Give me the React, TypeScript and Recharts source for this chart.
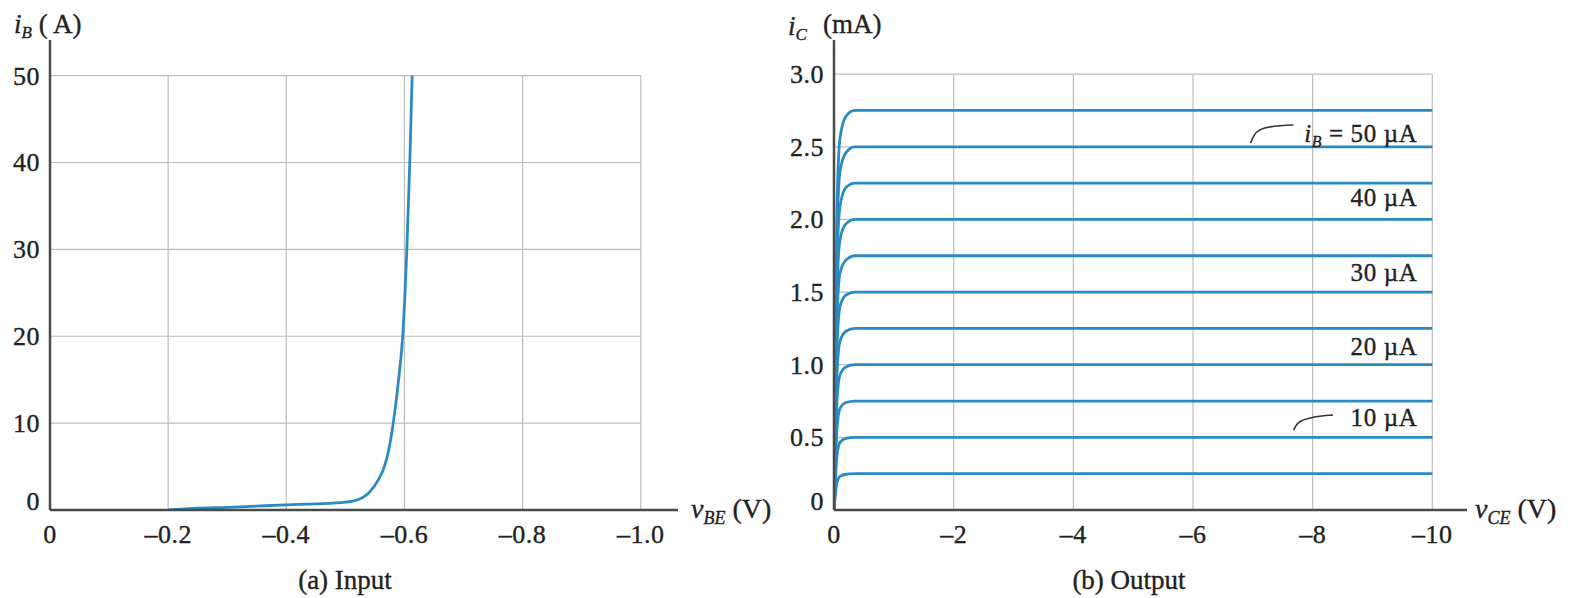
import { LineChart, Line, XAxis, YAxis, ReferenceLine, ReferenceDot } from 'recharts';

const FONT = '"Liberation Serif", "Times New Roman", serif';
const CURVE = '#2a8ac4';
const GRID = '#bdbdbd';
const AXIS = '#4a4a4a';
const TEXT = '#222';

// (a) input characteristic
const vbeValues = [-0.2, -0.25, -0.3, -0.35, -0.4, -0.45, -0.5, -0.52, -0.54, -0.556, -0.565, -0.573, -0.581, -0.59, -0.597, -0.604, -0.609, -0.613];
const ibValues = [0, 0.2, 0.3, 0.45, 0.6, 0.7, 0.9, 1.15, 2.0, 3.5, 4.8, 6.8, 10, 15, 20, 30, 40, 50];
const inputXTicks = [0, -0.2, -0.4, -0.6, -0.8, -1.0];
const inputYTicks = [0, 10, 20, 30, 40, 50];

// (b) output characteristics, one curve per base current step (5 µA)
const vceValues = [0, -0.05, -0.1, -0.2, -0.35, -10];
const icCurves = [
  [0, 0.19, 0.232, 0.246, 0.25, 0.25],
  [0, 0.375, 0.465, 0.493, 0.5, 0.5],
  [0, 0.56, 0.7, 0.74, 0.75, 0.75],
  [0, 0.75, 0.93, 0.985, 1.0, 1.0],
  [0, 0.94, 1.16, 1.23, 1.25, 1.25],
  [0, 1.12, 1.4, 1.48, 1.5, 1.5],
  [0, 1.31, 1.63, 1.72, 1.75, 1.75],
  [0, 1.5, 1.86, 1.97, 2.0, 2.0],
  [0, 1.69, 2.09, 2.22, 2.25, 2.25],
  [0, 1.88, 2.33, 2.46, 2.5, 2.5],
  [0, 2.06, 2.56, 2.71, 2.75, 2.75],
];
const outputXTicks = [0, -2, -4, -6, -8, -10];
const outputYTicks = [0, 0.5, 1.0, 1.5, 2.0, 2.5, 3.0];

// curve labels (right aligned at x, centred on y)
const labelTexts = ['50', '40 µA', '30 µA', '20 µA', '10 µA'];
const labelX = -9.75;
const labelY = [2.59, 2.15, 1.63, 1.12, 0.63];

// leader strokes for the 50 µA and 10 µA labels
const leader50X = [-6.96, -7.06, -7.26, -7.68];
const leader50Y = [2.525, 2.6, 2.635, 2.65];
const leader10X = [-7.68, -7.76, -7.96, -8.34];
const leader10Y = [0.55, 0.6, 0.633, 0.654];

const inputData = vbeValues.map((x, i) => ({ x, y: ibValues[i] }));
const outputData = icCurves.map((c) => vceValues.map((x, i) => ({ x, y: c[i] })));
const leader50 = leader50X.map((x, i) => ({ x, y: leader50Y[i] }));
const leader10 = leader10X.map((x, i) => ({ x, y: leader10Y[i] }));

const dash = (v: number, digits: number) => (v === 0 ? '0' : '\u2013' + Math.abs(v).toFixed(digits));

const textStyle = { fontFamily: FONT, fill: TEXT, stroke: TEXT, strokeWidth: 0.35 };

function XTick(props: any) {
  const { x, y, payload, digits } = props;
  return (
    <text x={x} y={y + 33} textAnchor="middle" fontSize={26} letterSpacing={0.5} style={textStyle}>
      {dash(payload.value, digits)}
    </text>
  );
}

function YTick(props: any) {
  const { x, y, payload, digits } = props;
  const v = payload.value;
  return (
    <text x={x - 10} y={y + 9 + (v === 0 ? -9 : 0)} textAnchor="end" fontSize={26} letterSpacing={0.5} style={textStyle}>
      {v === 0 ? '0' : v.toFixed(digits)}
    </text>
  );
}

function CurveLabel(props: any) {
  const { cx, cy, text, sub } = props;
  return (
    <text x={cx} y={cy + 8} textAnchor="end" fontSize={25} letterSpacing={0.6} style={textStyle}>
      {sub ? (
        <>
          <tspan fontStyle="italic">i</tspan>
          <tspan fontStyle="italic" fontSize={16} dy={5}>B</tspan>
          <tspan dy={-5}> = {text} µA</tspan>
        </>
      ) : (
        text
      )}
    </text>
  );
}

function InputChart() {
  return (
    <LineChart width={790} height={598} margin={{ top: 40, right: 112, bottom: 58, left: 0 }}>
      <XAxis
        type="number"
        dataKey="x"
        domain={[-1.063, 0]}
        reversed
        allowDataOverflow
        ticks={inputXTicks}
        tickSize={0}
        tickMargin={0}
        height={30}
        axisLine={{ stroke: AXIS, strokeWidth: 2.5 }}
        tickLine={false}
        tick={(p: any) => <XTick {...p} digits={1} />}
      />
      <YAxis
        type="number"
        domain={[0, 54.1]}
        allowDataOverflow
        ticks={inputYTicks}
        tickSize={0}
        tickMargin={0}
        width={50}
        axisLine={{ stroke: AXIS, strokeWidth: 2.5 }}
        tickLine={false}
        tick={(p: any) => <YTick {...p} digits={0} />}
      />
      {inputXTicks.slice(1).map((t) => (
        <ReferenceLine key={'v' + t} segment={[{ x: t, y: 0 }, { x: t, y: 50 }]} stroke={GRID} strokeWidth={1.2} />
      ))}
      {inputYTicks.slice(1).map((t) => (
        <ReferenceLine key={'h' + t} segment={[{ x: 0, y: t }, { x: -1, y: t }]} stroke={GRID} strokeWidth={1.2} />
      ))}
      <Line data={inputData} dataKey="y" type="monotone" stroke={CURVE} strokeWidth={2.8} dot={false} isAnimationActive={false} />
    </LineChart>
  );
}

function OutputChart() {
  return (
    <LineChart width={788} height={598} margin={{ top: 40, right: 104, bottom: 58, left: 0 }}>
      <XAxis
        type="number"
        dataKey="x"
        domain={[-10.58, 0]}
        reversed
        allowDataOverflow
        ticks={outputXTicks}
        tickSize={0}
        tickMargin={0}
        height={30}
        axisLine={{ stroke: AXIS, strokeWidth: 2.5 }}
        tickLine={false}
        tick={(p: any) => <XTick {...p} digits={0} />}
      />
      <YAxis
        type="number"
        domain={[0, 3.235]}
        allowDataOverflow
        ticks={outputYTicks}
        tickSize={0}
        tickMargin={0}
        width={51}
        axisLine={{ stroke: AXIS, strokeWidth: 2.5 }}
        tickLine={false}
        tick={(p: any) => <YTick {...p} digits={1} />}
      />
      {outputXTicks.slice(1).map((t) => (
        <ReferenceLine key={'v' + t} segment={[{ x: t, y: 0 }, { x: t, y: 3 }]} stroke={GRID} strokeWidth={1.2} />
      ))}
      {outputYTicks.slice(1).map((t) => (
        <ReferenceLine key={'h' + t} segment={[{ x: 0, y: t }, { x: -10, y: t }]} stroke={GRID} strokeWidth={1.2} />
      ))}
      {outputData.map((d, i) => (
        <Line key={i} data={d} dataKey="y" type="monotone" stroke={CURVE} strokeWidth={2.8} dot={false} isAnimationActive={false} />
      ))}
      <Line data={leader50} dataKey="y" type="monotone" stroke="#333" strokeWidth={1.6} dot={false} isAnimationActive={false} />
      <Line data={leader10} dataKey="y" type="monotone" stroke="#333" strokeWidth={1.6} dot={false} isAnimationActive={false} />
      {labelTexts.map((t, i) => (
        <ReferenceDot
          key={t}
          x={labelX}
          y={labelY[i]}
          r={0}
          shape={(p: any) => <CurveLabel {...p} text={t} sub={i === 0} />}
        />
      ))}
    </LineChart>
  );
}

export default function App() {
  return (
    <div style={{ position: 'absolute', left: 0, top: 0, width: 1571, height: 598, background: '#fff', overflow: 'hidden' }}>
      <div style={{ position: 'absolute', left: 0, top: 0 }}>
        <InputChart />
      </div>
      <div style={{ position: 'absolute', left: 783, top: 0 }}>
        <OutputChart />
      </div>
      <svg width={1571} height={598} style={{ position: 'absolute', left: 0, top: 0, pointerEvents: 'none' }}>
        <text x={14} y={33} fontSize={27} style={textStyle}>
          <tspan fontStyle="italic">i</tspan>
          <tspan fontStyle="italic" fontSize={17} dy={5}>B</tspan>
          <tspan dy={-5}> ( A)</tspan>
        </text>
        <text x={788} y={35} fontSize={27} style={textStyle}>
          <tspan fontStyle="italic">i</tspan>
          <tspan fontStyle="italic" fontSize={17} dy={5}>C</tspan>
        </text>
        <text x={823} y={33} fontSize={27} style={textStyle}>(mA)</text>
        <text x={691} y={518} fontSize={28} style={textStyle}>
          <tspan fontStyle="italic">v</tspan>
          <tspan fontStyle="italic" fontSize={18} dy={6}>BE</tspan>
          <tspan dy={-6}> (V)</tspan>
        </text>
        <text x={1475} y={518} fontSize={28} style={textStyle}>
          <tspan fontStyle="italic">v</tspan>
          <tspan fontStyle="italic" fontSize={18} dy={6}>CE</tspan>
          <tspan dy={-6}> (V)</tspan>
        </text>
        <text x={345} y={589} fontSize={27} textAnchor="middle" style={textStyle}>(a) Input</text>
        <text x={1129} y={589} fontSize={27} textAnchor="middle" style={textStyle}>(b) Output</text>
      </svg>
    </div>
  );
}
